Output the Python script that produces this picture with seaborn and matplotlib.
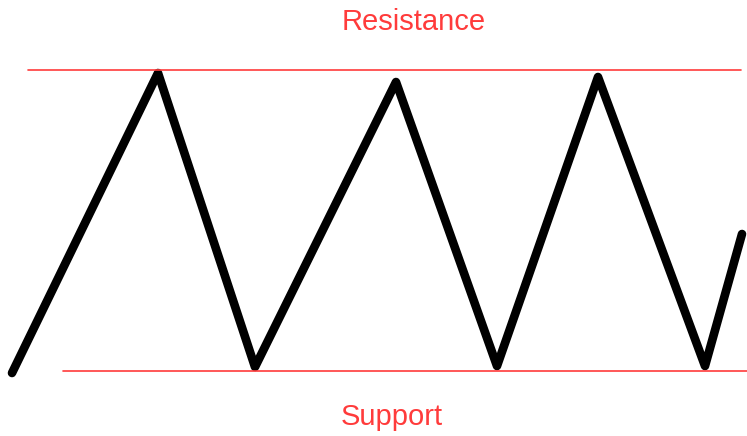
import matplotlib
matplotlib.use("Agg")
import matplotlib.pyplot as plt
import seaborn as sns
import pandas as pd

# Price path vertices (pixel-like units, y grows downward)
price_x = [12, 158, 255, 396, 497, 598, 705, 742]
price_y = [373, 73, 367, 82, 366, 77, 366, 234]

# Horizontal levels
resistance_y = 70
resistance_x = [28, 741]
support_y = 371
support_x = [63, 747]

labels = ["Resistance", "Support"]
label_x = [414, 392]
label_y = [22, 417]

sns.set_theme(style="white")
plt.rcParams['font.family'] = ['Liberation Sans', 'DejaVu Sans']

fig = plt.figure(figsize=(7.47, 4.36), dpi=100)
ax = fig.add_axes([0, 0, 1, 1])

df = pd.DataFrame({"x": price_x, "y": price_y})
sns.lineplot(data=df, x="x", y="y", ax=ax, color="black", linewidth=6.2,
             sort=False, solid_capstyle="round", solid_joinstyle="round")

red = "#ff3b3b"
ax.plot(resistance_x, [resistance_y] * 2, color=red, linewidth=1.2)
ax.plot(support_x, [support_y] * 2, color=red, linewidth=1.2)

for t, x, y in zip(labels, label_x, label_y):
    ax.text(x, y, t, color=red, fontsize=21, ha="center", va="center")

ax.set_xlim(0, 747)
ax.set_ylim(436, 0)
ax.axis("off")
fig.savefig("out.png", dpi=100, facecolor="white")
